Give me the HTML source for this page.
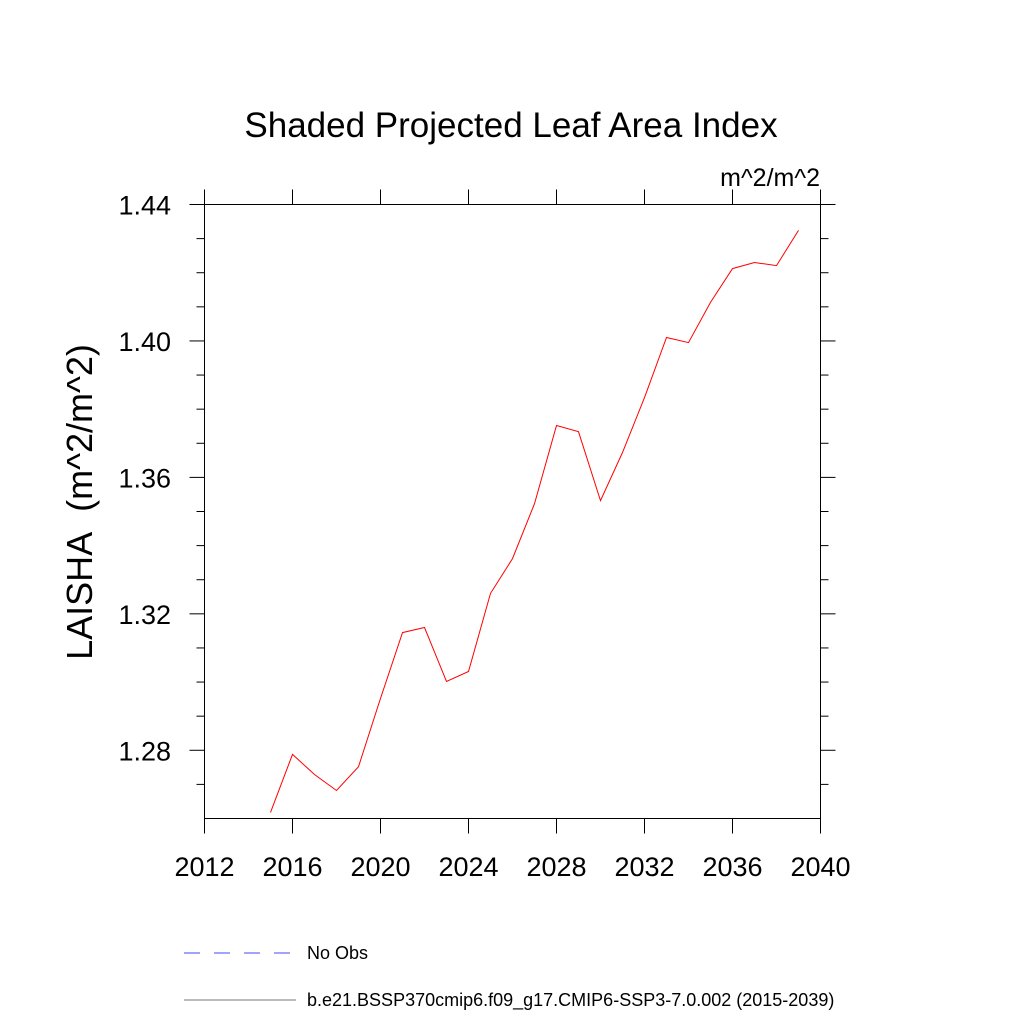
<!DOCTYPE html>
<html><head><meta charset="utf-8"><style>
html,body{margin:0;padding:0;background:#fff;}
svg{display:block;font-family:"Liberation Sans",sans-serif;}
</style></head><body>
<svg id="chart" width="1024" height="1024" viewBox="0 0 1024 1024">
<text x="511" y="137" font-size="35" text-anchor="middle">Shaded Projected Leaf Area Index</text>
<text x="820" y="186" font-size="25" text-anchor="end">m^2/m^2</text>
<text transform="translate(92,502) rotate(-90)" font-size="36" text-anchor="middle">LAISHA&#160;&#160;(m^2/m^2)</text>
<g id="axes"></g>
<g id="series"></g>
<g>
<line x1="184" y1="953" x2="296" y2="953" stroke="#4444ff" stroke-width="1" stroke-dasharray="16,14"/>
<text x="307" y="959" font-size="18">No Obs</text>
<line x1="184" y1="1000" x2="296" y2="1000" stroke="#777" stroke-width="1"/>
<text x="307" y="1006" font-size="18">b.e21.BSSP370cmip6.f09_g17.CMIP6-SSP3-7.0.002 (2015-2039)</text>
</g>
</svg>
<script>
const years = [2015,2016,2017,2018,2019,2020,2021,2022,2023,2024,2025,2026,2027,2028,2029,2030,2031,2032,2033,2034,2035,2036,2037,2038,2039];
const laisha = [1.2618,1.2788,1.2729,1.2682,1.2752,1.2952,1.3145,1.3160,1.3002,1.3031,1.3260,1.3362,1.3523,1.3752,1.3734,1.3532,1.3673,1.3834,1.4010,1.3995,1.4113,1.4212,1.4230,1.4221,1.4324];
const xTicks = [2012,2016,2020,2024,2028,2032,2036,2040];
const yTicks = [1.28,1.32,1.36,1.40,1.44];
const yMinor = [1.27,1.29,1.30,1.31,1.33,1.34,1.35,1.37,1.38,1.39,1.41,1.42,1.43];
const X0=204.5,X1=820.5,Y0=818.5,Y1=204.5;
const xMin=2012,xMax=2040,yMin=1.26,yMax=1.44;
const sx=v=>X0+(v-xMin)/(xMax-xMin)*(X1-X0);
const sy=v=>Y0-(v-yMin)/(yMax-yMin)*(Y0-Y1);
const NS="http://www.w3.org/2000/svg";
const axes=document.getElementById('axes');
function mk(tag,attrs,parent){const e=document.createElementNS(NS,tag);for(const k in attrs)e.setAttribute(k,attrs[k]);parent.appendChild(e);return e;}
const frame=mk('rect',{x:X0,y:Y1,width:X1-X0,height:Y0-Y1,fill:'none',stroke:'#000','stroke-width':1},axes);


xTicks.forEach(t=>{const x=sx(t);
 const b=mk('line',{x1:x,y1:Y0,x2:x,y2:Y0+15,stroke:'#000'},axes);
 
 
 const tp=mk('line',{x1:x,y1:Y1,x2:x,y2:Y1-15,stroke:'#000'},axes);
 
 
 const l=mk('text',{x:x,y:876,'font-size':27,'text-anchor':'middle'},axes);l.textContent=t;
 
 
});
yTicks.forEach(t=>{const y=sy(t);
 const a=mk('line',{x1:X0-15,y1:y,x2:X0,y2:y,stroke:'#000'},axes);
 
 
 const r=mk('line',{x1:X1,y1:y,x2:X1+15,y2:y,stroke:'#000'},axes);
 
 
 const l=mk('text',{x:171,y:y+10,'font-size':27,'text-anchor':'end'},axes);l.textContent=t.toFixed(2);
 
 
});
yMinor.forEach(t=>{const y=sy(t);
 const a=mk('line',{x1:X0-8,y1:y,x2:X0,y2:y,stroke:'#000'},axes);
 
 
 const r=mk('line',{x1:X1,y1:y,x2:X1+8,y2:y,stroke:'#000'},axes);
 
 
});
const pts=years.map((yr,i)=>sx(yr).toFixed(1)+','+sy(laisha[i]).toFixed(1)).join(' ');
const pl=mk('polyline',{points:pts,fill:'none',stroke:'#ff0000','stroke-width':1},document.getElementById('series'));


</script>
</body></html>
